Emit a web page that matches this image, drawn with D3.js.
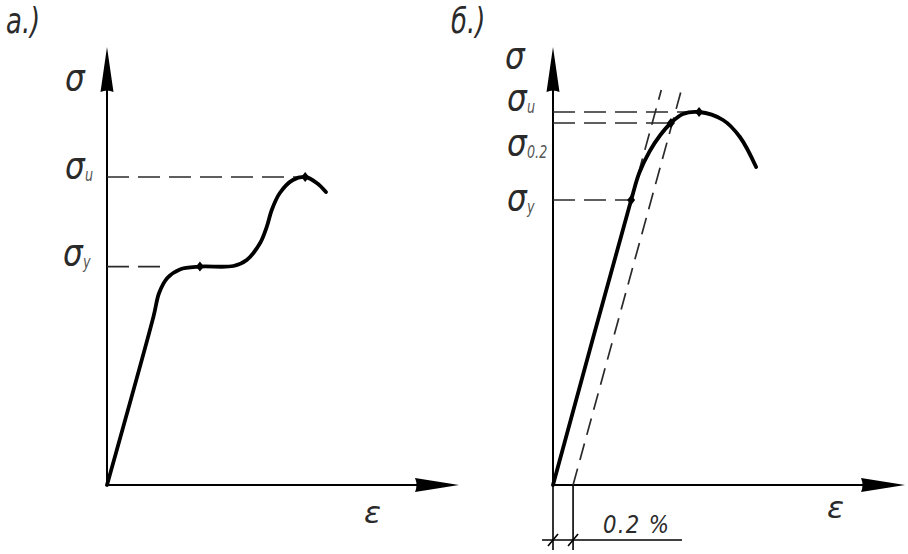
<!DOCTYPE html>
<html><head><meta charset="utf-8">
<script src="https://cdn.jsdelivr.net/npm/d3@7"></script>
<style>
body{margin:0;background:#fff;}
text{font-family:"DejaVu Sans","Liberation Sans",sans-serif;font-style:italic;fill:#2a2a2a;}
</style></head><body>
<svg id="c" width="908" height="554"></svg>
<script>
// ---- data (strain in arbitrary units, stress in arbitrary units) ----
const panelTitles = ["а.)", "б.)"];
const axisLabelY = "σ";
const axisLabelX = "ε";
// Panel a: material with yield plateau
const leftStrain = [0, 1.32, 1.48, 1.72, 2.07, 2.64, 3.59, 3.97, 4.35, 4.54, 4.68, 4.91, 5.28, 5.63, 5.96, 6.22];
const leftStress = [0, 42.1, 48, 51.8, 53.9, 54.6, 54.75, 56.25, 60.5, 64.6, 68.75, 73, 76.25, 77, 75.5, 73.25];
const leftMarks = [{name:"y", strain:2.64, stress:54.6}, {name:"u", strain:5.63, stress:77}];
const leftLevels = [{sub:"u", stress:77, to:5.6}, {sub:"y", stress:54.6, to:1.73}];
// Panel б: material without plateau
const rightStrain = [0, 2.22, 2.45, 2.75, 3.05, 3.35, 3.69, 4.15, 4.83, 5.31, 5.77];
const rightStress = [0, 71.25, 78, 83.5, 87.5, 90.5, 92.75, 93.25, 91.25, 87, 79.5];
const rightMarks = [{name:"y", strain:2.22, stress:71.25}, {name:"0.2", strain:3.35, stress:90.5}, {name:"u", strain:4.15, stress:93.25}];
const rightLevels = [{sub:"u", stress:93.25, to:3.97}, {sub:"0.2", stress:90.5, to:3.35}, {sub:"y", stress:71.25, to:2.22}];
const elasticModulus = 32.1;     // stress units per strain unit
const offsetStrain = 0.57;       // 0.2 % offset
const offsetLabel = "0.2 %";
const guideTop = 98.75;

// ---- scales ----
const svg = d3.select("#c");
const yS = d3.scaleLinear().domain([0, 100]).range([485, 85]);
const xL = d3.scaleLinear().domain([0, 10]).range([107, 459]);
const xR = d3.scaleLinear().domain([0, 10]).range([553, 905]);
const yTop = 109.5;

function txt(x, y, size, str, sx, fill){
  return svg.append("text").attr("transform",`translate(${x},${y}) scale(${sx||1},1)`)
    .attr("font-size",size).style("fill",fill||"#2a2a2a").text(str);
}

function axes(x){
  const x0 = x(0), y0 = yS(0);
  svg.append("line").attr("x1",x0).attr("y1",y0).attr("x2",x0).attr("y2",yS(yTop)+20)
    .attr("stroke","#000").attr("stroke-width",2);
  svg.append("line").attr("x1",x0).attr("y1",y0).attr("x2",x(10)-20).attr("y2",y0)
    .attr("stroke","#000").attr("stroke-width",2);
  const ty = yS(yTop);
  svg.append("path").attr("d",`M${x0},${ty} L${x0-6.5},${ty+45} Q${x0},${ty+42} ${x0+6.5},${ty+45} Z`).attr("fill","#000");
  const tx = x(10);
  svg.append("path").attr("d",`M${tx},${y0} L${tx-44},${y0-7} Q${tx-41},${y0} ${tx-44},${y0+7} Z`).attr("fill","#000");
}

function sigma(x, baseline, sub){
  txt(x, baseline, 38, axisLabelY, 0.82);
  if(sub){
    txt(x + 20, baseline + 3, 17, sub, 0.75, "#555");
  }
}

function dashed(x1,y1,x2,y2,da){
  svg.append("line").attr("x1",x1).attr("y1",y1).attr("x2",x2).attr("y2",y2)
    .attr("stroke","#2a2a2a").attr("stroke-width",1.7).attr("stroke-dasharray",da||"22,9");
}

function diamond(x,y){
  svg.append("path").attr("d",`M${x},${y-5} L${x+4},${y} L${x},${y+5} L${x-4},${y} Z`).attr("fill","#000");
}

const line = d3.line().curve(d3.curveCatmullRom.alpha(0.5));

// ---- panel a ----
axes(xL);
txt(6, 33, 36, panelTitles[0], 0.72);
sigma(65, 90);
txt(364, 523, 30, axisLabelX, 1.05);
leftLevels.forEach(l => dashed(xL(0), yS(l.stress), xL(l.to), yS(l.stress)));
sigma(65, 178, "u");
sigma(63, 265, "y");
svg.append("path").attr("d", line(leftStrain.map((s,i)=>[xL(s), yS(leftStress[i])])))
  .attr("fill","none").attr("stroke","#000").attr("stroke-width",3.8).attr("stroke-linecap","round");
leftMarks.forEach(m => diamond(xL(m.strain), yS(m.stress)));

// ---- panel б ----
axes(xR);
txt(451, 33, 36, panelTitles[1], 0.72);
sigma(505, 68);
txt(827, 518, 30, axisLabelX, 1.05);
rightLevels.forEach(l => dashed(xR(0), yS(l.stress), xR(l.to), yS(l.stress)));
sigma(507, 110, "u");
sigma(507, 155, "0.2");
sigma(507, 210, "y");
// elastic extension and offset line
const yEnd = rightMarks[0].stress;
dashed(xR(yEnd/elasticModulus), yS(yEnd), xR(guideTop/elasticModulus), yS(guideTop), "17,9");
dashed(xR(offsetStrain), yS(0), xR(offsetStrain + guideTop/elasticModulus), yS(guideTop), "17,9");
svg.append("path").attr("d", line(rightStrain.map((s,i)=>[xR(s), yS(rightStress[i])])))
  .attr("fill","none").attr("stroke","#000").attr("stroke-width",3.8).attr("stroke-linecap","round");
rightMarks.forEach(m => diamond(xR(m.strain), yS(m.stress)));

// dimension for 0.2 %
const dimY = yS(0) + 55;
[0, offsetStrain].forEach(s => {
  const px = xR(s);
  svg.append("line").attr("x1",px).attr("y1",yS(0)).attr("x2",px).attr("y2",dimY+10)
    .attr("stroke","#000").attr("stroke-width",1.6);
  svg.append("line").attr("x1",px-5).attr("y1",dimY+6).attr("x2",px+5).attr("y2",dimY-6)
    .attr("stroke","#000").attr("stroke-width",1.6);
});
svg.append("line").attr("x1",xR(0)-11).attr("y1",dimY).attr("x2",xR(0)+129).attr("y2",dimY)
  .attr("stroke","#000").attr("stroke-width",1.6);
txt(603, 533, 25, offsetLabel, 0.85).attr("letter-spacing",1.5);
</script></body></html>
